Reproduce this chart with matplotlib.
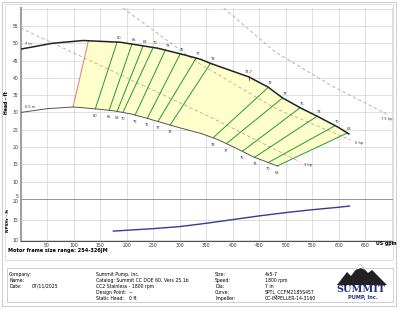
import numpy as np
import matplotlib
matplotlib.use("Agg")
import matplotlib.pyplot as plt
from matplotlib.patches import Rectangle, Polygon

# ---------------- data ----------------
q7 = [0, 60, 118, 188, 258, 305, 339, 358, 430, 466, 494, 528, 562, 598, 619]
h7 = [48.3, 50.0, 50.8, 50.3, 48.6, 46.8, 45.4, 44.2, 40.3, 37.4, 34.2, 31.3, 28.7, 25.8, 23.8]

q65 = [0, 50, 100, 145, 175, 208, 239, 270, 302, 339, 370, 402, 440, 485]
h65 = [30.0, 31.1, 31.6, 31.0, 30.5, 29.6, 28.3, 26.9, 25.5, 24.0, 22.3, 20.0, 17.1, 14.5]

# efficiency lines: flow on 7 in curve (top) and on 6.5 in curve (bottom)
eff_labels = ["60", "65", "68", "70", "73", "75", "77", "78", "78", "77", "75", "73", "70", "68"]
eff_q_top = [182, 210, 231, 250, 273, 301, 331, 358, 467, 494, 527, 559, 593, 616]
eff_q_bot = [141, 167, 182, 193, 216, 239, 259, 282, 363, 388, 418, 441, 467, 484]
bep_label = "78.7"
bep_q = 430

# min flow line (left boundary)
minflow_q = [99, 128]

# power lines
hp_labels = ["3 hp", "5 hp", "7.5 hp"]
hp_q = [[0, 180, 360, 527], [193, 330, 480, 622], [383, 480, 590, 690]]
hp_h = [[54.4, 41.5, 28.5, 15.7], [60.2, 44.8, 31.2, 22.1], [60.2, 47.5, 37.4, 29.6]]

# NPSHr
npsh_q = [175, 250, 300, 350, 400, 450, 500, 550, 600, 620]
npsh_h = [12.2, 12.8, 13.3, 14.1, 15.0, 15.9, 16.7, 17.4, 18.0, 18.3]

x_ticks = [50, 100, 150, 200, 250, 300, 350, 400, 450, 500, 550, 600, 650]
head_ticks = [5, 10, 15, 20, 25, 30, 35, 40, 45, 50, 55]
npsh_ticks = [10, 15, 20]

info_left = [("Company:", ""), ("Name:", ""), ("Date:", "07/11/2025")]
info_mid = [("Summit Pump, Inc.", ""), ("Catalog: Summit CC DOE 60, Vers 25.1b", ""),
            ("CC2 Stainless - 1800 rpm", ""), ("Design Point:", "---"), ("Static Head:", "0 ft")]
info_right = [("Size:", "4x5-7"), ("Speed:", "1800 rpm"), ("Dia:", "7 in"),
              ("Curve:", "SPTL_CCFM2185S457"), ("Impeller:", "CC-IMPELLER-14-3160")]

# ---------------- figure ----------------
W, H = 400, 309
fig = plt.figure(figsize=(4.0, 3.09), dpi=100)
fig.patch.set_facecolor("white")

def fx(px):
    return px / W

def fy(py):
    return 1 - py / H

# outer frames
fig.patches.append(Rectangle((fx(2), fy(306)), fx(396) - fx(2), fy(2) - fy(306),
                             transform=fig.transFigure, fill=False, ec="#d0d0d0", lw=0.8))
fig.patches.append(Rectangle((fx(5), fy(260)), fx(393) - fx(5), fy(4) - fy(260),
                             transform=fig.transFigure, fill=False, ec="#d8d8d8", lw=0.6))

L, R = 20.5, 393
axh = fig.add_axes([fx(L), fy(199), fx(R) - fx(L), fy(8) - fy(199)])
axn = fig.add_axes([fx(L), fy(241), fx(R) - fx(L), fy(199) - fy(241)])

grid_c = "#d9d9d9"
tick_fs = 3.3
for ax in (axh, axn):
    ax.set_xlim(0, 702)
    ax.set_xticks(x_ticks + [700])
    ax.grid(True, color=grid_c, lw=0.6)
    ax.tick_params(length=0, labelsize=tick_fs, pad=1.5, colors="#333333")
    for s in ax.spines.values():
        s.set_visible(False)
    ax.set_axisbelow(True)

axh.set_ylim(5, 60.2)
axh.set_yticks(head_ticks + [60])
axh.set_yticklabels([str(t) for t in head_ticks] + [""])
axh.get_yticklabels()[0].set_va("bottom")
axh.set_xticklabels([])
axh.spines["left"].set_visible(True)
axh.spines["left"].set_color("#a0a0a0")
axh.spines["left"].set_linewidth(1.5)

axn.set_ylim(9.8, 20)
axn.set_yticks(npsh_ticks)
axn.get_yticklabels()[-1].set_va("top")
axn.set_xticklabels([str(t) for t in x_ticks] + [""])
axn.spines["left"].set_visible(True)
axn.spines["left"].set_color("#a0a0a0")
axn.spines["left"].set_linewidth(1.5)
axn.spines["bottom"].set_visible(True)
axn.spines["bottom"].set_color("#555555")
axn.spines["bottom"].set_linewidth(0.8)
axn.axhline(20, color="#8a8a8a", lw=1.2, zorder=1)

# ---- head curves ----
def c7(q):
    return np.interp(q, q7, h7)

def c65(q):
    return np.interp(q, q65, h65)

# yellow region
qa = np.linspace(minflow_q[1], eff_q_top[-1], 120)
qb = np.linspace(eff_q_bot[-1], minflow_q[0], 120)
poly = list(zip(qa, c7(qa))) + list(zip(qb, c65(qb)))
axh.add_patch(Polygon(poly, closed=True, fc="#ffffcc", ec="none", zorder=1))

axh.plot([minflow_q[0], minflow_q[1]], [c65(minflow_q[0]), c7(minflow_q[1])],
         color="#f08080", lw=0.8, zorder=3)

axh.plot(q7, h7, color="#222222", lw=1.1, zorder=5)
axh.plot(q65, h65, color="#555555", lw=0.7, zorder=5)

axh.text(8, c7(8) + 1.0, "7 in", fontsize=2.6, color="#333", zorder=6)
axh.text(8, c65(8) + 1.0, "6.5 in", fontsize=2.6, color="#333", zorder=6)

# power lines
for lab, qq, hh in zip(hp_labels, hp_q, hp_h):
    axh.plot(qq, hh, color="#b8a898", lw=0.6, ls=(0, (4, 3)), zorder=4)
    if lab == "7.5 hp":
        axh.text(qq[-1], hh[-1] - 1.0, lab, fontsize=2.6, color="#333", ha="center",
                 va="top", zorder=6)
    else:
        axh.text(qq[-1] + 8, hh[-1] - 1.2, lab, fontsize=2.6, color="#333", zorder=6)

# efficiency lines
for lab, qt, qbt in zip(eff_labels, eff_q_top, eff_q_bot):
    axh.plot([qbt, qt], [c65(qbt), c7(qt)], color="#1f9a3a", lw=0.7, zorder=4)
    axh.text(qt + 4, c7(qt) + 0.9, lab, fontsize=2.6, color="#333", ha="center", zorder=6)
    axh.text(qbt, c65(qbt) - 2.3, lab, fontsize=2.6, color="#333", ha="center", zorder=6)

axh.plot([bep_q, bep_q], [c7(bep_q) - 0.9, c7(bep_q) + 0.3], color="#222", lw=0.5, zorder=6)
axh.text(bep_q, c7(bep_q) + 1.0, bep_label, fontsize=2.6, color="#333", ha="center", zorder=6)

# NPSH
axn.plot(npsh_q, npsh_h, color="#3a3a90", lw=1.0, zorder=4)

# axis titles
fig.text(fx(7), fy(103), "Head - ft", rotation=90, fontsize=3.3, fontweight="bold",
         ha="center", va="center")
fig.text(fx(8), fy(220), "NPSHr - ft", rotation=90, fontsize=3.0, fontweight="bold",
         ha="center", va="center")
fig.text(fx(376), fy(243.5), "US gpm", fontsize=3.4, fontweight="bold", ha="left", va="center")
fig.text(fx(8), fy(250.5), "Motor frame size range: 254-326JM", fontsize=3.6,
         fontweight="bold", ha="left", va="center")

# info box
fig.patches.append(Rectangle((fx(7), fy(302)), fx(393) - fx(7), fy(268) - fy(302),
                             transform=fig.transFigure, fill=False, ec="#c8c8c8", lw=0.6))
rows = [274.5, 280.5, 286.5, 292.5, 298.5]
fs = 3.3
for i, (a, b) in enumerate(info_left):
    fig.text(fx(9), fy(rows[i]), a, fontsize=fs, va="center")
    fig.text(fx(32), fy(rows[i]), b, fontsize=fs, va="center")
for i, (a, b) in enumerate(info_mid):
    fig.text(fx(96), fy(rows[i]), a, fontsize=fs, va="center")
    if b:
        fig.text(fx(129), fy(rows[i]), b, fontsize=fs, va="center")
for i, (a, b) in enumerate(info_right):
    fig.text(fx(215), fy(rows[i]), a, fontsize=fs, va="center")
    fig.text(fx(265), fy(rows[i]), b, fontsize=fs, va="center")

# logo
mtn = [(337, 285), (347, 272), (351, 276), (360, 264), (368, 273), (372, 270), (387, 285)]
fig.patches.append(Polygon([(fx(x), fy(y)) for x, y in mtn], closed=True,
                           transform=fig.transFigure, fc="#222222", ec="none"))
snow = [(355, 270), (360, 264), (365, 270), (361, 268)]
fig.patches.append(Polygon([(fx(x), fy(y)) for x, y in snow], closed=True,
                           transform=fig.transFigure, fc="#ffffff", ec="none"))
fig.text(fx(361), fy(289.5), "SUMMIT", fontsize=7.0, fontweight="bold", family="DejaVu Serif",
         color="#1f2f7a", ha="center", va="center")
fig.text(fx(363), fy(297.5), "PUMP, Inc.", fontsize=3.6, fontweight="bold", color="#1f2f7a",
         ha="center", va="center")

fig.savefig("out.png", dpi=100)
